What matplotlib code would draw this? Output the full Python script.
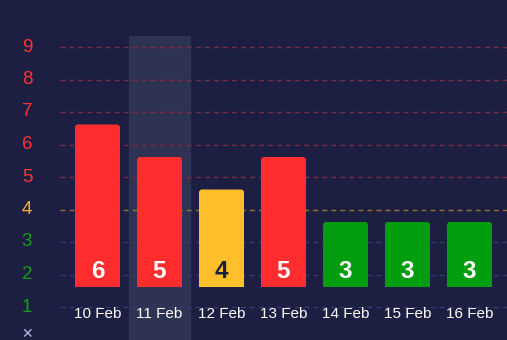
import matplotlib
matplotlib.use("Agg")
import matplotlib.pyplot as plt
from matplotlib.patches import FancyBboxPatch
import numpy as np

plt.rcParams['font.family'] = ['Liberation Sans', 'DejaVu Sans']

# ---- data ----
dates = ["10 Feb", "11 Feb", "12 Feb", "13 Feb", "14 Feb", "15 Feb", "16 Feb"]
values = [6, 5, 4, 5, 3, 3, 3]
levels = [1, 2, 3, 4, 5, 6, 7, 8, 9]
highlighted = 1

BG = "#1c1f42"
RED = "#ff2d2d"
YELLOW = "#ffbf2b"
GREEN = "#029e10"

def level_color(v):
    if v >= 5:
        return RED
    if v == 4:
        return YELLOW
    return GREEN

def tick_color(v):
    if v >= 5:
        return "#ff3333"
    if v == 4:
        return "#f2b235"
    return "#1a9a1a"

def grid_color(v):
    if v >= 5:
        return "#7e2a44"
    if v == 4:
        return "#957230"
    return "#363b6c"

W, H = 507, 340
fig = plt.figure(figsize=(W / 100, H / 100), dpi=100, facecolor=BG)
ax = fig.add_axes([0, 0, 1, 1])
ax.set_facecolor(BG)

# pixel mapping
px_per_x = 62.0
x0_px = 97.5
px_per_y = 32.5
y1_px = 307.0  # pixel (from top) of level 1
ax.set_xlim(-x0_px / px_per_x, (W - x0_px) / px_per_x)
ax.set_ylim(1 - (H - y1_px) / px_per_y, 1 + y1_px / px_per_y)
for s in ax.spines.values():
    s.set_visible(False)
ax.set_xticks([])
ax.set_yticks([])

def py(pix):  # pixel-from-top to data y
    return 1 + (y1_px - pix) / px_per_y

# highlight band
ax.axvspan(highlighted - 0.5, highlighted + 0.5, ymin=0, ymax=(H - 36) / H,
           color="#2e3253", zorder=1, lw=0)

# gridlines + y labels
for lv in levels:
    ax.axhline(lv, xmin=60 / W, xmax=1, color=grid_color(lv), lw=1,
               ls=(0, (3.5, 3)), zorder=2)
    ax.text(27 / W, lv, str(lv), transform=ax.get_yaxis_transform(),
            ha="center", va="center", fontsize=13.5, color=tick_color(lv), zorder=3)
ax.text(27 / W, py(334), "✕", transform=ax.get_yaxis_transform(),
        ha="center", va="center", fontsize=10, color="#b8b8e8",
        family="DejaVu Sans", zorder=3)

# bars
base = py(287)
bw = 45 / px_per_x
for i, v in enumerate(values):
    c = level_color(v)
    h = v - 1
    patch = FancyBboxPatch((i - bw / 2, base), bw, h,
                           boxstyle="round,pad=0,rounding_size=0.05",
                           mutation_aspect=px_per_x / px_per_y,
                           fc=c, ec="none", zorder=4)
    ax.add_patch(patch)
    ax.bar(i, h * 0.5, bottom=base, width=bw, color=c, zorder=4, lw=0)
    tc = BG if c == YELLOW else "white"
    ax.text(i, py(271.5), str(v), ha="center", va="center", fontsize=17.5,
            fontweight="bold", color=tc, zorder=5)
    ax.text(i, py(314), dates[i], ha="center", va="center", fontsize=11,
            color="white", zorder=5)

fig.savefig("out.png", dpi=100, facecolor=BG)
